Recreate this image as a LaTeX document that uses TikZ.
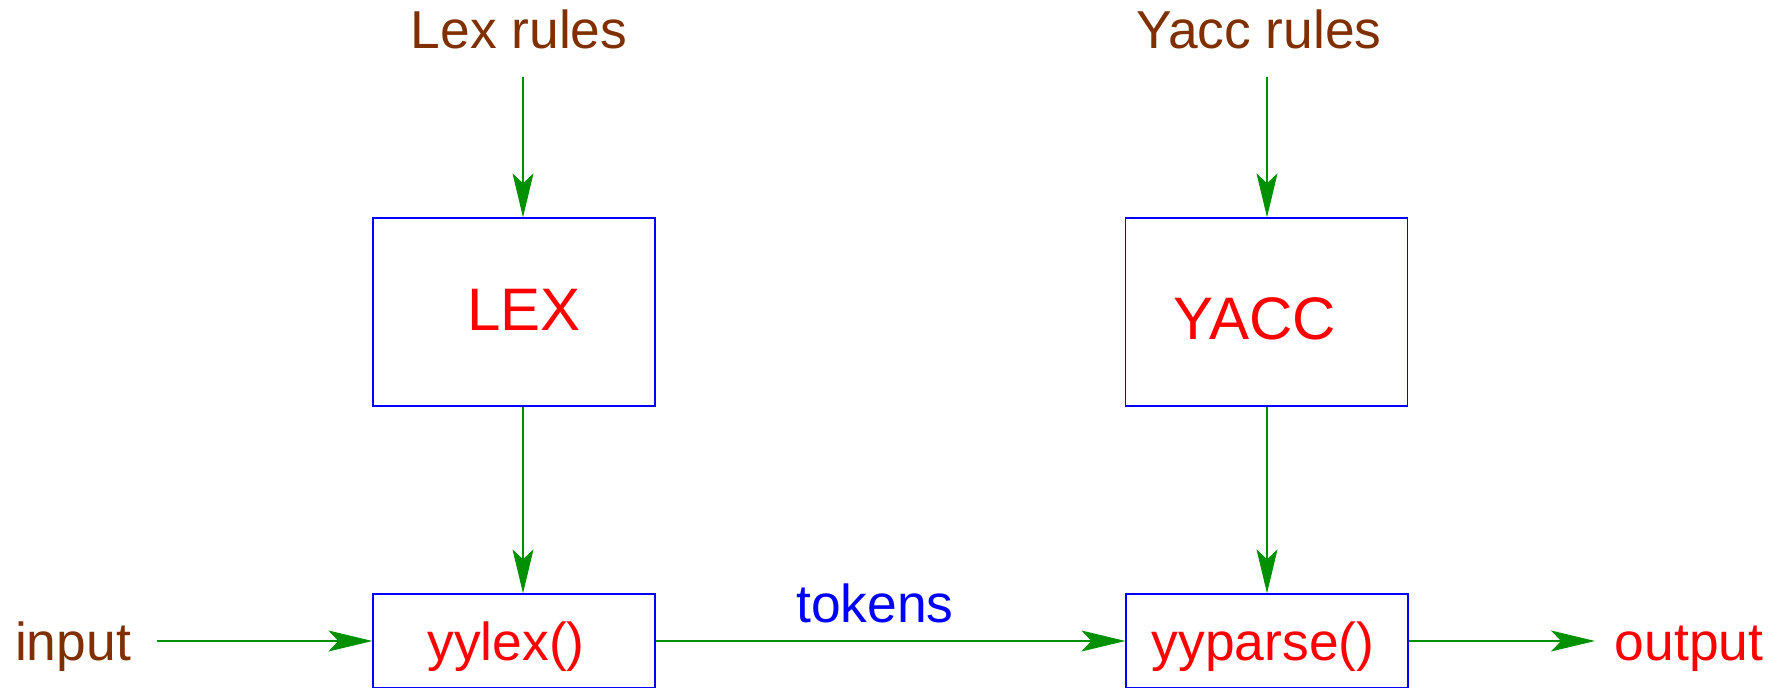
\documentclass[tikz,border=0pt]{standalone}
\usepackage{fontspec}
\setmainfont{Liberation Sans}
\usetikzlibrary{arrows.meta}
\definecolor{figbrown}{RGB}{128,48,0}
\definecolor{figgreen}{RGB}{0,144,0}
\definecolor{figblue}{RGB}{0,0,255}
\definecolor{figred}{RGB}{255,0,0}
\begin{document}
\begin{tikzpicture}[x=0.5pt,y=-0.5pt,
  tag/.style={font=\fontsize{26.7}{32}\selectfont, inner sep=0pt, anchor=base},
  big/.style={font=\fontsize{30}{36}\selectfont, inner sep=0pt, anchor=base, text=figred},
  stage/.style={draw=figblue, line width=0.65pt, rectangle, minimum width=141pt, inner sep=0pt},
  flow/.style={draw=figgreen, line width=0.55pt, -{Stealth[length=22pt,width=10.5pt,inset=5pt]}}]
\useasboundingbox (0,0) rectangle (1780,688);

% processing stages
\node[stage, minimum height=94pt] (lex) at (514,312) {};
\node[stage, minimum height=94pt] (yacc) at (1266.5,312) {};
\node[stage, minimum height=47pt] (yylex) at (514,641) {};
\node[stage, minimum height=47pt] (yyparse) at (1267,641) {};

% stage labels
\node[big] (lextxt) at (524,331) {LEX};
\node[big] (yacctxt) at (1255,340) {YACC};
\node[tag, text=figred] (yylextxt) at (506,660) {yylex()};
\node[tag, text=figred] (yyparsetxt) at (1263,660) {yyparse()};

% inputs and outputs
\node[tag, text=figbrown] (lexrules) at (519,49) {Lex rules};
\node[tag, text=figbrown] (yaccrules) at (1259,49) {Yacc rules};
\node[tag, text=figbrown] (input) at (73,660) {input};
\node[tag, text=figred] (output) at (1689,660) {output};
\node[tag, text=figblue] (tokens) at (875,622) {tokens};

% connector ends
\coordinate (lexsrc) at (523,77);
\coordinate (yaccsrc) at (1267,77);
\coordinate (insrc) at (157,641);
\coordinate (outdst) at (1595,641);

% data flow
\draw[flow] (lexsrc) -- (lexsrc |- lex.north);
\draw[flow] (lexsrc |- lex.south) -- (lexsrc |- yylex.north);
\draw[flow] (yaccsrc) -- (yaccsrc |- yacc.north);
\draw[flow] (yaccsrc |- yacc.south) -- (yaccsrc |- yyparse.north);
\draw[flow] (insrc) -- (yylex.west);
\draw[flow] (yylex.east) -- (yyparse.west);
\draw[flow] (yyparse.east) -- (outdst);
\end{tikzpicture}
\end{document}
